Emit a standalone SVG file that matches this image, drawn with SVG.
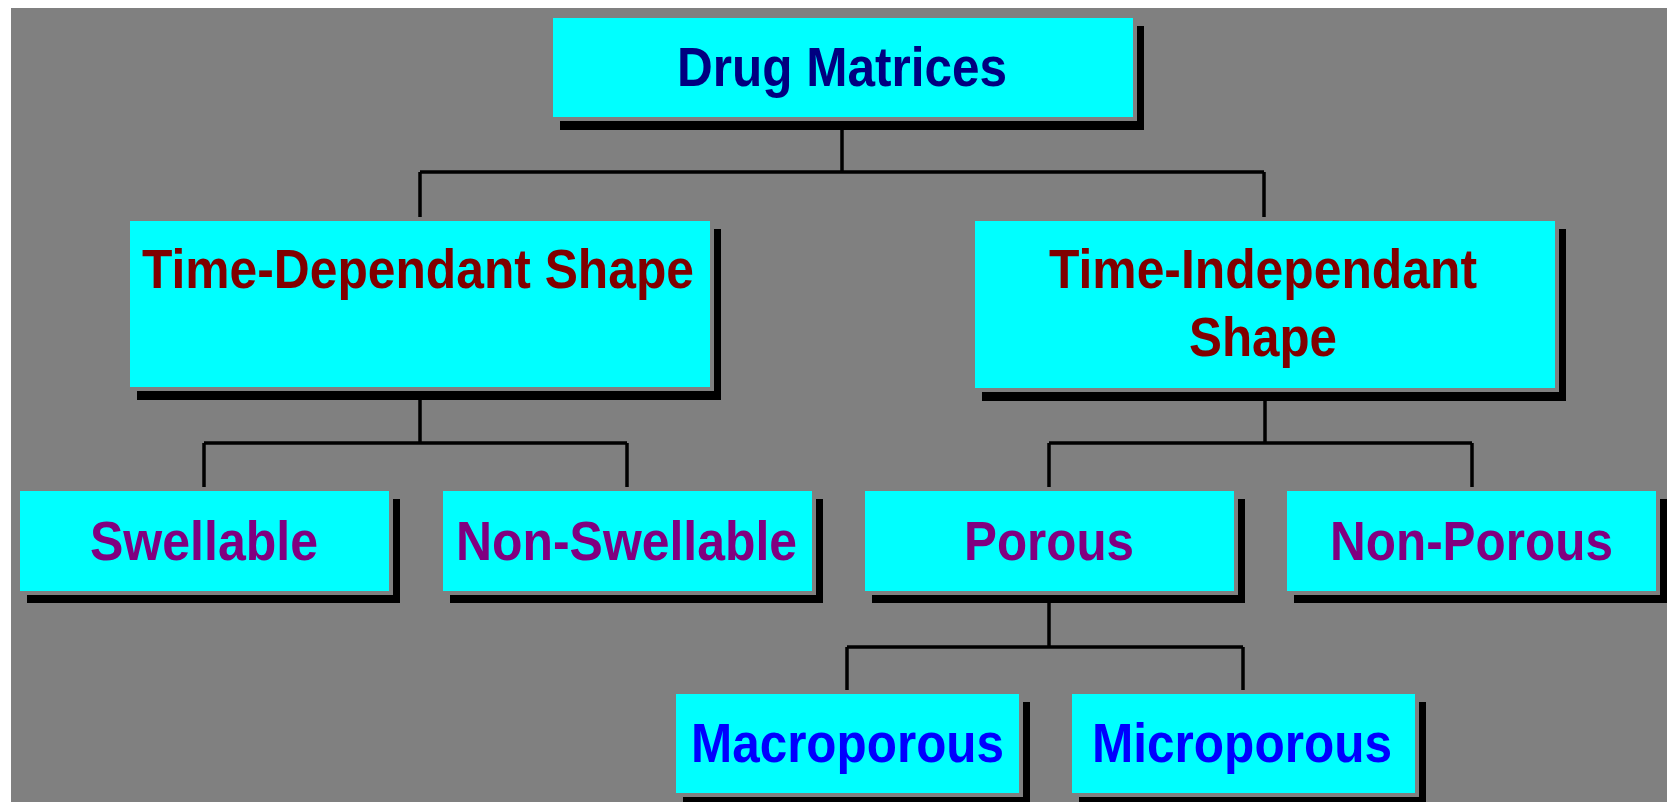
<svg xmlns="http://www.w3.org/2000/svg" width="1667" height="802" viewBox="0 0 1667 802">
<style>
.sh{fill:#000}
.bd{fill:#808080}
.bx{fill:#00FFFF}
.t{font-family:"Liberation Sans",Arial,sans-serif;font-weight:bold;font-size:56px;text-anchor:middle}
.c1{fill:#000080}
.c2{fill:#800000}
.c3{fill:#800080}
.c4{fill:#0000FF}
.ln{fill:none;stroke:#000;stroke-width:3.5;stroke-linecap:butt}
</style>
<rect x="0" y="0" width="1667" height="802" fill="#FFFFFF"/>
<rect x="11" y="8" width="1656" height="794" fill="#808080"/>
<g id="connectors">
<path class="ln" d="M842,117 V172 M420,172 H1264 M420,172 V217 M1264,172 V217"/>
<path class="ln" d="M420,387 V443 M204,443 H627 M204,443 V487 M627,443 V487"/>
<path class="ln" d="M1265,388 V443 M1049,443 H1472 M1049,443 V487 M1472,443 V487"/>
<path class="ln" d="M1049,591 V647 M847,647 H1243 M847,647 V690 M1243,647 V690"/>
</g>
<g id="drug-matrices">
<rect class="sh" x="560" y="26" width="584" height="104"/>
<rect class="bd" x="553" y="18" width="584" height="103"/>
<rect class="bx" x="553" y="18" width="580" height="99"/>
<text class="t c1" x="842" y="86" textLength="330" lengthAdjust="spacingAndGlyphs">Drug Matrices</text>
</g>
<g id="time-dependant">
<rect class="sh" x="137" y="229" width="584" height="171"/>
<rect class="bd" x="130" y="221" width="584" height="170"/>
<rect class="bx" x="130" y="221" width="580" height="166"/>
<text class="t c2" x="418" y="288" textLength="552" lengthAdjust="spacingAndGlyphs">Time-Dependant Shape</text>
</g>
<g id="time-independant">
<rect class="sh" x="982" y="229" width="584" height="172"/>
<rect class="bd" x="975" y="221" width="584" height="171"/>
<rect class="bx" x="975" y="221" width="580" height="167"/>
<text class="t c2" x="1263" y="288" textLength="428" lengthAdjust="spacingAndGlyphs">Time-Independant</text>
<text class="t c2" x="1263" y="356" textLength="148" lengthAdjust="spacingAndGlyphs">Shape</text>
</g>
<g id="swellable">
<rect class="sh" x="27" y="499" width="373" height="104"/>
<rect class="bd" x="20" y="491" width="373" height="104"/>
<rect class="bx" x="20" y="491" width="369" height="100"/>
<text class="t c3" x="204" y="560" textLength="228" lengthAdjust="spacingAndGlyphs">Swellable</text>
</g>
<g id="non-swellable">
<rect class="sh" x="450" y="499" width="373" height="104"/>
<rect class="bd" x="443" y="491" width="373" height="104"/>
<rect class="bx" x="443" y="491" width="369" height="100"/>
<text class="t c3" x="626.5" y="560" textLength="341" lengthAdjust="spacingAndGlyphs">Non-Swellable</text>
</g>
<g id="porous">
<rect class="sh" x="872" y="499" width="373" height="104"/>
<rect class="bd" x="865" y="491" width="373" height="104"/>
<rect class="bx" x="865" y="491" width="369" height="100"/>
<text class="t c3" x="1049" y="560" textLength="170" lengthAdjust="spacingAndGlyphs">Porous</text>
</g>
<g id="non-porous">
<rect class="sh" x="1294" y="499" width="373" height="104"/>
<rect class="bd" x="1287" y="491" width="373" height="104"/>
<rect class="bx" x="1287" y="491" width="369" height="100"/>
<text class="t c3" x="1471.5" y="560" textLength="283" lengthAdjust="spacingAndGlyphs">Non-Porous</text>
</g>
<g id="macroporous">
<rect class="sh" x="683" y="702" width="347" height="103"/>
<rect class="bd" x="676" y="694" width="347" height="103"/>
<rect class="bx" x="676" y="694" width="343" height="99"/>
<text class="t c4" x="847.5" y="762" textLength="313" lengthAdjust="spacingAndGlyphs">Macroporous</text>
</g>
<g id="microporous">
<rect class="sh" x="1079" y="702" width="347" height="103"/>
<rect class="bd" x="1072" y="694" width="347" height="103"/>
<rect class="bx" x="1072" y="694" width="343" height="99"/>
<text class="t c4" x="1242" y="762" textLength="300" lengthAdjust="spacingAndGlyphs">Microporous</text>
</g>
</svg>
